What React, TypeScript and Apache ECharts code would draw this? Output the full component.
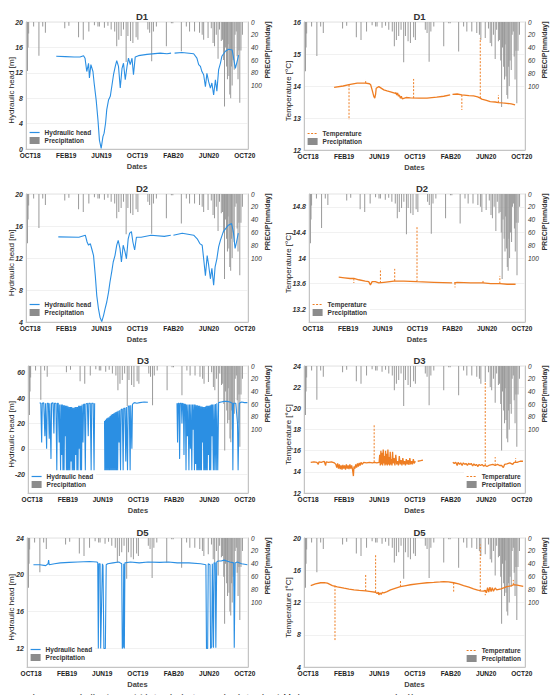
import React, { useEffect, useRef } from "react";
import * as echarts from "echarts";

type Pt = [number, number | null];

const xTickDays = [0, 123, 243, 365, 488, 609, 731];
const xTickLabels = ["OCT18", "FEB19", "JUN19", "OCT19", "FAB20", "JUN20", "OCT20"];
const precipTicks = [0, 20, 40, 60, 80, 100];

// daily precipitation [day since 2018-10-01, mm/day]
const precip: [number, number][] = [
  [-9, 77], [-7, 40], [-5, 18], [12, 7], [30, 53], [43, 7], [52, 17], [118, 10], [132, 6],
  [165, 24], [181, 28], [200, 15], [219, 5], [231, 7], [236, 7], [253, 9], [265, 6], [276, 12],
  [288, 15], [295, 38], [302, 28], [310, 22], [318, 12], [327, 63], [333, 22], [342, 30],
  [350, 33], [361, 24], [367, 28], [401, 12], [407, 17], [414, 62], [420, 15], [430, 7],
  [464, 38], [481, 2], [486, 2], [515, 46], [532, 7], [543, 15], [560, 15], [577, 17],
  [586, 20], [591, 28], [606, 25], [617, 10], [623, 33], [628, 38], [634, 20], [640, 58],
  [645, 12], [651, 30], [655, 28], [659, 60], [662, 133], [665, 40], [669, 70], [672, 90],
  [674, 35], [677, 85], [680, 114], [683, 120], [686, 70], [688, 100], [691, 60], [695, 75],
  [698, 20], [702, 15], [705, 54], [708, 90], [711, 45], [714, 127], [718, 45], [723, 20],
];

const d1Head: Pt[] = [
  [89, 14.6], [120, 14.55], [150, 14.5], [170, 14.5], [182, 14.7], [187, 14.3], [193, 12.2],
  [199, 13.5], [202, 11.2], [207, 13.3], [214, 12.2], [218, 10.4], [225, 7.7], [231, 4.6],
  [236, 1.4], [242, 0.1], [248, 1.95], [252, 2.5], [257, 4.1], [261, 6.2], [267, 7.7],
  [273, 8.3], [278, 9.8], [284, 11.7], [290, 13.0], [295, 13.9], [301, 13.0], [307, 9.6],
  [313, 12.7], [318, 13.5], [324, 10.9], [330, 13.0], [335, 14.3], [341, 13.3], [347, 14.3],
  [352, 11.7], [358, 14.5], [369, 14.7], [398, 14.9], [443, 15.1], [466, 15.0], [480, 15.1],
  [484, null], [492, 15.1], [517, 15.2], [557, 15.0], [568, 14.3], [574, 13.3], [580, 13.0],
  [585, 12.2], [591, 11.7], [597, 9.8], [602, 11.9], [608, 10.6], [614, 9.6], [619, 10.4],
  [625, 8.5], [631, 10.9], [636, 9.1], [642, 12.5], [648, 13.5], [653, 14.6], [665, 15.4],
  [676, 15.7], [688, 15.6], [693, 14.3], [699, 12.7], [705, 13.8], [710, 14.8],
];

const d2Head: Pt[] = [
  [96, 14.64], [166, 14.6], [188, 14.85], [194, 14.0], [199, 13.6], [205, 13.8], [211, 13.0],
  [216, 12.3], [222, 9.8], [227, 7.3], [233, 5.6], [238, 4.6], [244, 4.05], [250, 4.8],
  [255, 5.6], [261, 6.5], [267, 7.7], [272, 9.0], [278, 10.3], [283, 11.5], [289, 12.3],
  [295, 13.6], [300, 14.2], [306, 13.2], [311, 11.5], [317, 13.6], [323, 12.8], [328, 11.9],
  [334, 14.4], [339, 15.1], [345, 15.3], [350, 14.0], [356, 13.0], [362, 14.6], [378, 14.6],
  [412, 14.85], [457, 14.7], [479, 14.85], [482, null], [488, 14.85], [518, 15.1], [557, 14.85],
  [569, 14.4], [578, 13.8], [586, 13.6], [591, 11.9], [597, 9.8], [603, 12.3], [608, 11.1],
  [614, 9.4], [619, 10.7], [625, 8.6], [630, 10.9], [636, 11.9], [642, 13.4], [648, 14.2],
  [658, 15.3], [675, 16.1], [686, 16.3], [692, 15.3], [698, 13.2], [703, 14.0], [709, 15.1],
];

const d3Head: Pt[] = [
  [26, 36.5], [30, 36], [33, 5], [35, 36], [40, 36.5], [44, 10], [46, 36], [50, 0], [52, 36],
  [56, 36], [59, 8], [61, 36], [65, -8], [67, 36], [72, 36.5], [75, 12], [77, 36], [82, 36],
  [85, -17], [87, 36], [90, 36], [93, 5], [95, 35], [98, -17], [100, 35], [102, -5], [104, 35],
  [106, -17], [108, 34.5], [110, -17], [112, 34.5], [114, 10], [116, 34], [118, -17], [120, 34],
  [122, -17], [124, 33.5], [126, -17], [128, 33], [130, -17], [132, 33], [134, -10], [136, 33],
  [138, -17], [140, 32.5], [142, -17], [144, 32.5], [146, -17], [148, 33], [150, -5], [152, 33],
  [154, -17], [156, 33], [158, -17], [160, 34], [162, 0], [164, 34], [166, -17], [168, 34],
  [170, -17], [172, 35], [175, 5], [177, 35], [180, 35.5], [183, -17], [185, 35.5], [190, 36],
  [193, 10], [195, 36], [200, 36], [203, -17], [205, 36], [210, 36], [213, -17], [215, 36],
  [216, null],
  [249, 22], [250, -17], [252, 23], [254, -17], [256, 24], [258, -17], [260, 24.5], [262, -17],
  [264, 25], [266, -17], [268, 26], [270, -17], [272, 27], [274, -17], [276, 27.5], [278, -17],
  [280, 28], [282, -17], [284, 28.5], [286, -17], [288, 29], [290, -17], [292, 29.5], [294, -17],
  [296, 30], [299, 5], [301, 30.5], [304, -17], [306, 31], [310, 31.5], [313, -17], [315, 32],
  [319, 32], [322, -10], [324, 33], [328, -17], [330, 33.5], [334, 34], [337, -17], [339, 34.5],
  [343, 0], [345, 35], [348, 36], [352, 36.5], [360, 36], [370, 36.5], [385, 37], [398, 36.8],
  [399, null],
  [498, 36], [500, 5], [502, 36], [505, 36], [507, -8], [509, 36], [513, 36], [515, 20],
  [517, 36], [520, 35.5], [522, -5], [524, 35.5], [527, 35], [529, -17], [531, 35], [534, 10],
  [536, 35], [539, -17], [541, 35], [544, 0], [546, 35], [549, -17], [551, 35], [554, 15],
  [556, 35], [558, -17], [560, 35], [562, -12], [564, 34.5], [566, -17], [568, 34.5], [570, -17],
  [572, 34], [574, -17], [576, 34], [578, -17], [580, 33.5], [582, -17], [584, 33.5], [586, 5],
  [588, 33], [590, -17], [592, 33], [594, -17], [596, 33.5], [598, -17], [600, 34], [602, -17],
  [604, 34], [606, -5], [608, 34], [610, -17], [612, 34.5], [614, -17], [616, 35], [618, 10],
  [620, 35], [623, -17], [625, 35], [628, -17], [630, 35.5], [633, -17], [635, 36], [638, -17],
  [641, 36.5], [650, 37], [660, 37.5], [670, 37.5], [680, 37], [688, 36], [690, -17], [692, 36],
  [700, 36], [706, 20], [708, -17], [712, 36], [720, 37], [730, 36.5], [740, 36.5],
];

const d5Head: Pt[] = [
  [8, 21.1], [30, 21.1], [50, 21.0], [58, 21.2], [60, 21.6], [62, 21.1], [80, 21.2], [100, 21.3],
  [130, 21.35], [160, 21.4], [200, 21.45], [225, 21.4], [228, 21.3], [230, 12], [232, 21.2],
  [236, 21.2], [238, 12], [240, 12], [244, 21.2], [246, 21], [249, 12], [254, 12], [257, 21.1],
  [262, 21.2], [280, 21.3], [300, 21.4], [305, 21.3], [310, 21.2], [312, 12], [315, 12.2],
  [317, 21.2], [319, 12], [321, 21.3], [340, 21.4], [370, 21.3], [400, 21.4], [440, 21.35],
  [470, 21.4], [500, 21.3], [540, 21.3], [580, 21.2], [598, 21.1], [600, 12], [604, 12],
  [606, 21.2], [612, 21.1], [614, 12], [618, 12.2], [620, 21.2], [624, 12.1], [626, 21.3],
  [630, 21.3], [632, 12.1], [635, 21.4], [640, 21.5], [650, 21.5], [660, 21.6], [680, 21.4],
  [693, 21.3], [695, 12.1], [698, 21.3], [705, 21.4], [720, 21.2], [740, 21.1],
];

const d1Temp: Pt[] = [
  [89, 13.96], [120, 14.0], [140, 14.04], [168, 14.09], [197, 14.09], [210, 14.07], [214, 14.04],
  [219, 13.88], [225, 13.67], [228, 13.62], [231, 13.75], [233, 13.93], [242, 13.98], [259, 13.88],
  [270, 13.85], [282, 13.82], [299, 13.77], [300, 13.8], [303, 13.72], [306, 13.78], [309, 13.68],
  [312, 13.72], [316, 13.62], [319, 13.68], [322, 13.6], [335, 13.64], [350, 13.63], [380, 13.62],
  [407, 13.62], [440, 13.65], [464, 13.68], [486, 13.72], [489, null], [494, 13.74], [510, 13.75],
  [526, 13.72], [550, 13.7], [566, 13.69], [580, 13.66], [589, 13.62], [594, 13.59], [610, 13.55],
  [623, 13.51], [640, 13.5], [651, 13.48], [665, 13.47], [680, 13.46], [695, 13.44], [708, 13.41],
];
const d1TempSpikes: [number, number, number][] = [
  [140, 14.04, 12.94], [197, 14.09, 14.2], [361, 13.62, 14.22], [526, 13.72, 13.25],
  [589, 13.62, 15.5], [651, 13.48, 13.72],
];

const d2Temp: Pt[] = [
  [90, 13.7], [110, 13.69], [130, 13.68], [143, 13.68], [160, 13.66], [183, 13.64], [195, 13.63],
  [201, 13.58], [207, 13.63], [218, 13.63], [230, 13.61], [248, 13.62], [283, 13.64], [318, 13.64],
  [364, 13.63], [423, 13.62], [487, 13.61], [490, null], [494, 13.61], [505, 13.62], [551, 13.61],
  [595, 13.61], [622, 13.6], [654, 13.6], [680, 13.59], [709, 13.59],
];
const d2TempSpikes: [number, number, number][] = [
  [143, 13.68, 13.61], [236, 13.61, 13.83], [286, 13.64, 13.83], [364, 13.63, 14.49],
  [497, 13.61, 13.54], [595, 13.61, 13.66], [654, 13.6, 13.72],
];

const d3Temp: Pt[] = [
  [9, 14.9], [20, 14.95], [30, 14.9], [35, 14.7], [37, 14.95], [45, 14.9], [55, 15.0], [60, 14.6],
  [62, 14.95], [70, 14.9], [80, 14.95], [90, 14.85], [95, 14.7], [98, 14.4], [101, 14.8],
  [104, 14.3], [107, 14.7], [110, 14.25], [113, 14.6], [116, 14.2], [119, 14.65], [122, 14.3],
  [125, 14.6], [128, 14.2], [131, 14.7], [134, 14.3], [137, 14.6], [140, 14.25], [143, 14.7],
  [146, 14.3], [149, 14.6], [152, 14.2], [155, 13.6], [157, 14.5], [160, 14.3], [163, 14.7],
  [166, 14.4], [169, 14.8], [172, 14.5], [175, 14.85], [178, 14.6], [181, 14.9], [185, 14.7],
  [190, 14.9], [200, 14.85], [210, 14.9], [220, 14.85], [228, 14.9], [235, 14.85], [243, 14.9],
  [245, 15.6], [247, 14.6], [249, 16.0], [251, 14.7], [253, 15.8], [255, 14.6], [257, 16.1],
  [259, 14.8], [261, 15.5], [263, 14.6], [265, 16.0], [267, 14.7], [269, 15.7], [271, 14.6],
  [273, 16.1], [275, 14.7], [277, 15.4], [279, 14.6], [281, 15.9], [283, 14.7], [285, 15.2],
  [287, 14.6], [289, 15.9], [291, 14.8], [294, 15.3], [297, 14.6], [300, 15.6], [303, 14.7],
  [306, 15.0], [309, 14.6], [312, 15.5], [315, 14.7], [318, 15.1], [321, 14.6], [324, 15.3],
  [327, 14.7], [330, 15.0], [333, 14.6], [336, 15.2], [339, 14.7], [342, 15.1], [345, 14.65],
  [348, 15.3], [351, 14.7], [354, 15.0], [357, 14.7], [360, 15.2], [363, 14.8], [367, 15.0],
  [370, null], [375, 15.0], [385, 15.05], [393, 15.1], [395, null],
  [495, 14.9], [500, 14.8], [505, 14.9], [510, 14.6], [513, 14.9], [518, 14.7], [522, 14.85],
  [527, 14.6], [531, 14.85], [536, 14.7], [540, 14.8], [545, 14.6], [549, 14.8], [554, 14.7],
  [558, 14.8], [563, 14.55], [567, 14.75], [572, 14.6], [576, 14.7], [581, 14.5], [585, 14.7],
  [590, 14.6], [595, 14.7], [600, 14.55], [606, 14.6], [612, 14.5], [618, 14.6], [625, 14.65],
  [632, 14.7], [640, 14.6], [648, 14.7], [655, 14.6], [662, 14.6], [668, 14.4], [672, 14.7],
  [680, 14.75], [690, 14.85], [700, 14.7], [705, 14.9], [715, 14.9], [725, 15.0], [735, 15.0],
];
const d3TempSpikes: [number, number, number][] = [
  [226, 14.9, 18.4], [606, 14.6, 22.5], [640, 14.6, 15.4], [710, 14.9, 15.3],
];

const d5Temp: Pt[] = [
  [9, 14.1], [25, 14.3], [43, 14.45], [55, 14.47], [66, 14.4], [83, 14.1], [100, 13.95],
  [123, 13.77], [140, 13.65], [157, 13.56], [175, 13.5], [197, 13.43], [215, 13.35], [231, 13.27],
  [236, 13.1], [240, 13.3], [242, 12.95], [246, 13.2], [250, 13.0], [254, 13.25], [259, 13.2],
  [270, 13.35], [282, 13.56], [300, 13.78], [316, 13.97], [335, 14.1], [350, 14.2], [380, 14.35],
  [407, 14.45], [430, 14.5], [452, 14.55], [464, 14.6], [480, 14.55], [498, 14.45], [515, 14.3],
  [532, 14.1], [550, 13.9], [566, 13.7], [580, 13.55], [589, 13.43], [600, 13.4], [606, 13.5],
  [610, 13.2], [614, 13.85], [618, 13.3], [622, 13.9], [626, 13.35], [630, 13.85], [634, 13.4],
  [640, 13.8], [645, 13.56], [660, 13.7], [680, 13.97], [695, 14.05], [702, 14.2], [715, 14.15],
  [736, 14.0],
];
const d5TempSpikes: [number, number, number][] = [
  [92, 14.1, 7.2], [197, 13.43, 15.6], [231, 13.27, 17.9], [316, 13.97, 14.8],
  [498, 14.45, 13.35], [589, 13.43, 19.2], [606, 13.5, 12.9], [702, 14.2, 14.8],
];

const FONT = '"Liberation Sans", Arial, sans-serif';
const BLUE = "#2b8fe3";
const ORANGE = "#ee7d22";
const BAR_GREY = "#9a9a9a";
const AXIS_GREY = "#c4c4c4";

function spikeData(sp: [number, number, number][]): Pt[] {
  const out: Pt[] = [];
  for (const [d, b, p] of sp) {
    out.push([d, b], [d, p], [d, null]);
  }
  return out;
}

const panels = [
  { title: "D1", kind: "head", min: 0, max: 20, ticks: [0, 4, 8, 12, 16, 20], data: d1Head, spikes: [] as [number, number, number][], grid: { left: 26, top: 22, width: 222, height: 127 }, legend: { left: 27, top: 128 } as any },
  { title: "D1", kind: "temp", min: 12, max: 16, ticks: [12, 13, 14, 15, 16], data: d1Temp, spikes: d1TempSpikes, grid: { left: 304, top: 22, width: 221, height: 128 }, legend: { left: 305, top: 129 } as any },
  { title: "D2", kind: "head", min: 4, max: 20, ticks: [4, 8, 12, 16, 20], data: d2Head, spikes: [], grid: { left: 26, top: 194, width: 222, height: 128 }, legend: { left: 27, top: 300 } as any },
  { title: "D2", kind: "temp", min: 13, max: 15, ticks: [13.2, 13.6, 14, 14.4, 14.8], data: d2Temp, spikes: d2TempSpikes, grid: { left: 309, top: 194, width: 216, height: 128 }, legend: { left: 310, top: 300 } as any },
  { title: "D3", kind: "head", min: -35, max: 65.5, ticks: [-20, 0, 20, 40, 60], data: d3Head, spikes: [], grid: { left: 28, top: 366, width: 220, height: 127 }, legend: { left: 29, top: 472 } as any },
  { title: "D3", kind: "temp", min: 12, max: 24, ticks: [12, 14, 16, 18, 20, 22, 24], data: d3Temp, spikes: d3TempSpikes, grid: { left: 304, top: 366, width: 221, height: 127 }, legend: { right: 33, top: 472 } as any },
  { title: "D5", kind: "head", min: 10, max: 24, ticks: [12, 16, 20, 24], data: d5Head, spikes: [], grid: { left: 27, top: 538, width: 221, height: 129 }, legend: { left: 28, top: 645 } as any },
  { title: "D5", kind: "temp", min: 4, max: 20, ticks: [4, 8, 12, 16, 20], data: d5Temp, spikes: d5TempSpikes, grid: { left: 304, top: 538, width: 221, height: 129 }, legend: { right: 33, top: 646 } as any },
];

const caption = "그림 3.8 시간에 따른 지하수위와 수온 및 강수량 변화 (D1, D2, D3, D5 관정)";

function buildOption() {
  const grid: any[] = [];
  const xAxis: any[] = [];
  const yAxis: any[] = [];
  const series: any[] = [];
  const title: any[] = [];
  const legend: any[] = [];
  const graphic: any[] = [];

  panels.forEach((p, i) => {
    const g = p.grid;
    grid.push({ ...g, show: true, borderColor: "#dcdcdc", borderWidth: 0.8, backgroundColor: "transparent" });
    const isLeftCol = i % 2 === 0;
    const isHead = p.kind === "head";
    const color = isHead ? BLUE : ORANGE;

    title.push({
      text: p.title,
      left: g.left + g.width / 2,
      top: g.top - 16,
      textAlign: "center",
      textStyle: { fontSize: 9.5, fontWeight: "bold", color: "#333", fontFamily: FONT },
    });

    xAxis.push({
      gridIndex: i,
      type: "value",
      min: -14,
      max: 742,
      axisLabel: {
        customValues: xTickDays,
        formatter: (v: number) => xTickLabels[xTickDays.indexOf(Math.round(v))] ?? "",
        fontSize: 6.5,
        fontWeight: "bold",
        color: "#222",
        margin: 3,
        fontFamily: FONT,
      },
      axisTick: { show: false },
      splitLine: { show: false },
      axisLine: { show: true, onZero: false, lineStyle: { color: AXIS_GREY } },
      name: "Dates",
      nameLocation: "middle",
      nameGap: 13,
      nameTextStyle: { fontSize: 7.5, fontWeight: "bold", color: "#444", fontFamily: FONT },
    });

    yAxis.push({
      gridIndex: i,
      type: "value",
      position: "left",
      min: p.min,
      max: p.max,
      axisLabel: {
        customValues: p.ticks,
        fontSize: 7,
        fontStyle: "italic",
        fontWeight: "bold",
        color: "#333",
        margin: 3,
        fontFamily: FONT,
      },
      axisTick: { show: false, customValues: p.ticks },
      splitLine: { show: true, lineStyle: { color: "#ededed", width: 0.8 } },
      axisLine: { show: true, onZero: false, lineStyle: { color: AXIS_GREY } },
    });
    yAxis.push({
      gridIndex: i,
      type: "value",
      position: "right",
      inverse: true,
      min: 0,
      max: 200,
      axisLabel: {
        customValues: precipTicks,
        fontSize: 6.5,
        fontStyle: "italic",
        color: "#333",
        margin: 3,
        fontFamily: FONT,
      },
      axisTick: { show: false },
      splitLine: { show: false },
      axisLine: { show: true, onZero: false, lineStyle: { color: AXIS_GREY } },
    });

    const lineName = isHead ? "Hydraulic head" : "Temperature";

    series.push({
      name: "Precipitation",
      type: "bar",
      xAxisIndex: i,
      yAxisIndex: 2 * i + 1,
      data: precip,
      barWidth: 1,
      itemStyle: { color: BAR_GREY },
      silent: true,
    });
    series.push({
      name: lineName,
      type: "line",
      xAxisIndex: i,
      yAxisIndex: 2 * i,
      data: p.data,
      symbol: "none",
      connectNulls: false,
      lineStyle: { width: isHead ? 1.1 : 1.3, color },
      itemStyle: { color },
      silent: true,
    });
    if (p.spikes.length) {
      series.push({
        name: lineName,
        type: "line",
        xAxisIndex: i,
        yAxisIndex: 2 * i,
        data: spikeData(p.spikes),
        symbol: "none",
        connectNulls: false,
        lineStyle: { width: 1, color: ORANGE, type: [2, 1.5] },
        itemStyle: { color: ORANGE },
        silent: true,
      });
    }

    legend.push({
      ...p.legend,
      orient: "vertical",
      itemGap: 1,
      itemWidth: 10,
      itemHeight: 7,
      padding: [1, 3, 1, 2],
      backgroundColor: "#fff",
      selectedMode: false,
      textStyle: { fontSize: 6.5, fontWeight: "bold", color: "#333", fontFamily: FONT },
      data: [
        {
          name: lineName,
          itemStyle: { color: "rgba(0,0,0,0)", borderWidth: 0, opacity: 0 },
          lineStyle: isHead ? { width: 1.2, color } : { width: 1.2, color, type: [2, 1.5] },
        },
        { name: "Precipitation", icon: "rect", itemStyle: { color: "#8c8c8c" } },
      ],
    });

    // axis titles
    graphic.push({
      type: "text",
      x: isLeftCol ? 11 : 288,
      y: g.top + g.height / 2 + 5,
      rotation: Math.PI / 2,
      silent: true,
      style: {
        text: isHead ? "Hydraulic head [m]" : "Temperature [°C]",
        fontSize: 8,
        fontFamily: FONT,
        fill: "#222",
        textAlign: "center",
        textVerticalAlign: "middle",
        align: "center",
        verticalAlign: "middle",
      },
    });
    graphic.push({
      type: "text",
      x: g.left + g.width + 19,
      y: g.top + 28,
      rotation: Math.PI / 2,
      silent: true,
      style: {
        text: "PRECIP[mm/day]",
        fontSize: 7,
        fontWeight: "bold",
        fontFamily: FONT,
        fill: "#333",
        textAlign: "center",
        textVerticalAlign: "middle",
        align: "center",
        verticalAlign: "middle",
      },
    });
  });

  graphic.push({
    type: "text",
    x: 12,
    y: 693,
    silent: true,
    style: {
      text: caption,
      fontSize: 13,
      fontFamily: '"Noto Sans CJK KR", sans-serif',
      fill: "#222",
      textAlign: "left",
      textVerticalAlign: "top",
      align: "left",
      verticalAlign: "top",
    },
  });

  return {
    animation: false,
    backgroundColor: "#fff",
    textStyle: { fontFamily: FONT },
    title,
    legend,
    grid,
    xAxis,
    yAxis,
    series,
    graphic,
  };
}

export default function App() {
  const ref = useRef<HTMLDivElement>(null);
  useEffect(() => {
    if (!ref.current) return;
    const chart = echarts.init(ref.current, undefined, { renderer: "svg" });
    chart.setOption(buildOption() as any);
    return () => chart.dispose();
  }, []);
  return (
    <div
      ref={ref}
      style={{ position: "fixed", left: 0, top: 0, width: 557, height: 695, background: "#fff" }}
    />
  );
}
